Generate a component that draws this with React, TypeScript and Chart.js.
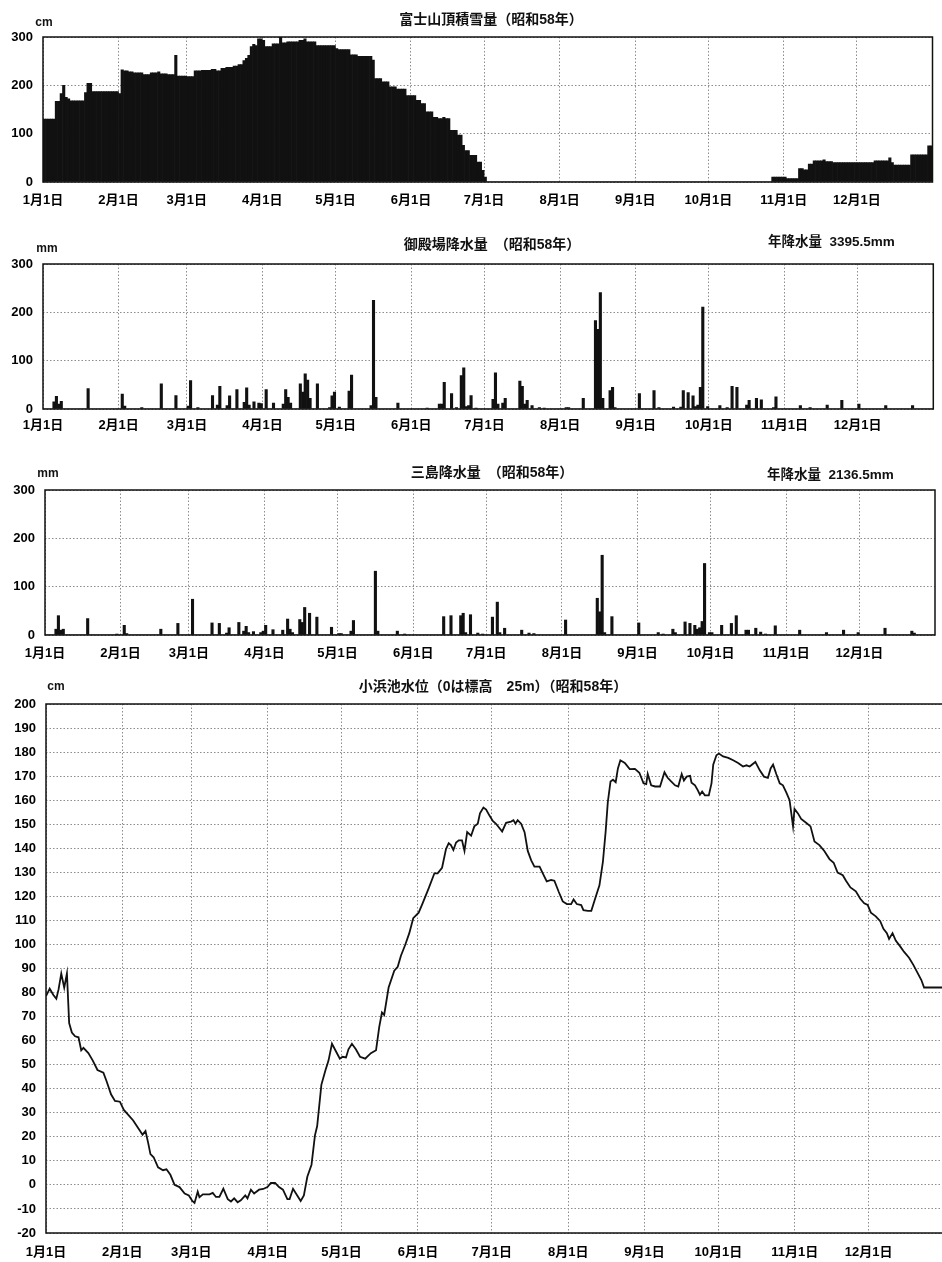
import React, { useEffect, useRef } from 'react';
import { Chart, registerables } from 'chart.js';
Chart.register(...registerables);

// ---------- data ----------
const monthStarts = [0, 31, 59, 90, 120, 151, 181, 212, 243, 273, 304, 334];
const monthLabels = ['1月1日', '2月1日', '3月1日', '4月1日', '5月1日', '6月1日', '7月1日', '8月1日', '9月1日', '10月1日', '11月1日', '12月1日'];

// Fuji summit snow depth (cm): [first day index, depth held until next entry]
const snowSteps: [number, number][] = [
  [0, 130], [5, 167], [7, 183], [8, 200], [9, 175], [10, 172], [11, 168], [17, 185], [18, 204], [20, 187],
  [31, 183], [32, 232], [33, 230], [35, 228], [37, 226], [41, 222], [44, 226], [47, 228], [48, 224], [51, 222],
  [54, 262], [55, 219], [59, 218], [62, 230], [65, 231], [69, 233], [71, 230], [73, 235], [75, 237], [78, 240],
  [80, 243], [82, 251], [83, 256], [84, 262], [85, 280], [86, 285], [87, 282], [88, 296], [90, 293], [91, 280],
  [94, 286], [97, 301], [98, 288], [100, 290], [105, 293], [107, 296], [108, 290], [112, 282], [120, 276],
  [121, 274], [126, 263], [129, 260], [135, 252], [136, 214], [139, 207], [142, 197], [145, 192], [149, 179],
  [153, 169], [155, 162], [157, 145], [160, 134], [162, 131], [164, 134], [165, 131], [167, 107], [170, 97],
  [172, 76], [173, 65], [175, 55], [178, 41], [180, 24], [181, 10], [182, 0], [299, 10], [305, 7], [310, 28],
  [312, 25], [314, 37], [316, 44], [320, 46], [321, 42], [324, 40], [341, 44], [347, 50], [348, 40], [349, 35],
  [356, 56], [363, 75],
];

// Gotemba daily precipitation (mm): [day index, mm]
const gotembaRain: [number, number][] = [
  [4, 15], [5, 26], [6, 10], [7, 16], [18, 42], [32, 31], [33, 6], [40, 3], [48, 52], [54, 28], [59, 6], [60, 59],
  [63, 3], [69, 28], [71, 8], [72, 47], [75, 7], [76, 27], [79, 40], [82, 14], [83, 44], [84, 8], [86, 15], [88, 12],
  [89, 11], [91, 40], [94, 12], [98, 10], [99, 40], [100, 24], [101, 12], [105, 52], [106, 35], [107, 73], [108, 60],
  [109, 22], [112, 52], [117, 3], [118, 27], [119, 35], [121, 4], [125, 37], [126, 70], [134, 7], [135, 225],
  [136, 24], [145, 12], [157, 2], [162, 10], [163, 10], [164, 55], [167, 32], [169, 3], [171, 69], [172, 85],
  [173, 5], [174, 7], [175, 28], [177, 2], [184, 20], [185, 75], [186, 10], [188, 12], [189, 22], [195, 58],
  [196, 47], [197, 10], [198, 18], [200, 7], [203, 3], [205, 2], [214, 3], [215, 3], [221, 22], [226, 183],
  [227, 165], [228, 241], [229, 22], [232, 38], [233, 45], [234, 3], [244, 32], [250, 38], [252, 3], [258, 4],
  [261, 4], [262, 38], [264, 34], [266, 27], [267, 5], [268, 8], [269, 45], [270, 211], [272, 5], [277, 7],
  [280, 3], [282, 47], [284, 45], [288, 8], [289, 18], [292, 22], [294, 19], [299, 3], [300, 25], [310, 7],
  [314, 3], [321, 8], [327, 18], [334, 10], [345, 7], [356, 7],
];

// Mishima daily precipitation (mm): [day index, mm]
const mishimaRain: [number, number][] = [
  [4, 12], [5, 40], [6, 10], [7, 12], [17, 34], [29, 2], [32, 20], [33, 3], [47, 12], [54, 24], [60, 74], [68, 25],
  [71, 24], [74, 4], [75, 15], [79, 26], [81, 8], [82, 18], [83, 5], [85, 7], [88, 5], [89, 8], [90, 20], [93, 11],
  [97, 10], [99, 33], [100, 12], [101, 5], [104, 32], [105, 26], [106, 57], [108, 45], [111, 37], [117, 16],
  [120, 3], [121, 3], [125, 8], [126, 30], [135, 132], [136, 8], [144, 8], [147, 2], [163, 38], [166, 40],
  [170, 40], [171, 45], [172, 5], [174, 42], [177, 4], [179, 2], [183, 37], [185, 68], [186, 5], [188, 14],
  [195, 10], [198, 4], [200, 3], [213, 31], [226, 76], [227, 48], [228, 165], [229, 5], [232, 38], [243, 25],
  [251, 5], [253, 2], [257, 12], [258, 5], [262, 27], [264, 24], [266, 20], [267, 12], [268, 15], [269, 28],
  [270, 148], [272, 5], [273, 5], [277, 20], [281, 24], [283, 40], [287, 10], [288, 10], [291, 14], [293, 6],
  [295, 2], [299, 19], [309, 10], [320, 5], [327, 10], [333, 5], [344, 14], [355, 8], [356, 4],
];

// Kohama pond water level (cm): [day, level]
const kohamaLevel: [number, number][] = [
  [0, 78.5], [1.5, 81.6], [3, 79], [4.2, 77.4], [5.1, 81.3], [6.2, 87.9], [7.4, 82], [8.5, 87.9], [9.4, 67.3],
  [10.5, 63.4], [11.8, 61.8], [13.2, 61.4], [14.3, 56], [15.2, 57], [17.2, 54.8], [19, 51.7], [20.9, 47.8],
  [23.3, 46.7], [24.6, 43.1], [26.4, 37.7], [28, 34.9], [30, 34.6], [31.6, 31.2], [33.4, 29.1], [35.4, 26.8],
  [37.4, 23.7], [39.2, 20.9], [40.4, 22.4], [41.5, 17.4], [42.4, 12.8], [43.7, 11.5], [45.5, 7.3], [47.5, 6.1],
  [48.9, 6.5], [50.5, 4.2], [52.2, 0], [54.2, -0.9], [56.3, -3.6], [58, -4.4], [59.4, -6.7], [60.3, -7.5],
  [61.6, -2.8], [62.3, -5.1], [63.7, -3.9], [66.4, -3.9], [67.7, -3.3], [69, -5], [70.4, -5], [72, -1.6],
  [73.8, -5.9], [75.1, -6.9], [76.4, -5.6], [77.8, -7.2], [79.1, -6.4], [80.9, -4.4], [81.8, -5.6], [83.2, -2],
  [84.5, -3.6], [86.5, -2], [88.2, -1.7], [89.9, -0.9], [91.3, 0.8], [93, 0.8], [94.6, -0.9], [96.2, -2],
  [98, -5.9], [98.9, -5.9], [100.3, -1.6], [102, -4.4], [103.4, -6.7], [104.7, -4.4], [106.1, 3.4], [107.8, 8.4],
  [109.2, 20.6], [110.1, 24.5], [111.8, 41.6], [113.4, 47.5], [114.7, 51.7], [116.1, 58.7], [117.7, 55.6],
  [119.3, 52.5], [120.4, 53.3], [121.8, 53], [122.8, 56.4], [124.2, 58.7], [125.8, 56.4], [127.5, 53.3],
  [129.6, 52.5], [131.9, 54.8], [134, 56], [135.3, 65.7], [136.4, 71.7], [137.3, 70.7], [139.1, 82.1],
  [141.4, 89.1], [142.8, 90.7], [144.1, 95.3], [145.9, 100], [147.5, 104.7], [149.1, 110.9], [151.3, 113.2],
  [152.9, 117.1], [155.4, 123.4], [157.7, 129.6], [159, 129.6], [160.8, 131.9], [162.4, 139.7], [163.5, 142.1],
  [164.4, 141.3], [165.4, 139.3], [166.5, 142.4], [167.6, 143.3], [168.9, 143.3], [169.9, 138.9], [171, 146.7],
  [172.6, 145.2], [173.9, 149.1], [175.3, 150.2], [176.2, 154.5], [177.6, 156.9], [178.7, 156.1], [180, 153.7],
  [181.4, 151.4], [182.7, 150.2], [185.2, 147], [186.8, 150.6], [188.8, 151.1], [189.8, 151.7], [190.6, 150.2],
  [191.5, 151.7], [192.9, 150.2], [194.3, 146.7], [195.6, 138.9], [197, 135], [198.3, 132.4], [200.4, 132.4],
  [201.7, 129.6], [203.3, 126.2], [205.1, 126.8], [206.4, 126.5], [208.2, 121.8], [209.8, 117.9], [211.5, 116.8],
  [213.2, 116.8], [214.2, 118.7], [215.5, 116.8], [217.3, 116.4], [218.2, 114.3], [220, 114], [221.4, 114],
  [223.1, 119.5], [224.7, 124.6], [226.1, 134.3], [227.2, 146.7], [228.1, 159.2], [229.2, 167.8], [230.2, 168.5],
  [231.3, 167.5], [232.2, 173.2], [233.2, 176.6], [235, 175.5], [237, 172.9], [239.1, 173], [240.9, 171.4],
  [242.6, 167], [243.7, 166.7], [244.3, 170.9], [245.7, 166.2], [247.3, 165.7], [249.3, 165.7], [251.1, 171.6],
  [252.4, 169.3], [253.8, 167.8], [255.4, 166.2], [256.7, 165.7], [258.1, 170.9], [259, 168.2], [260.1, 169.8],
  [261.5, 170.1], [262.1, 167.3], [263.5, 166.2], [264.6, 164.2], [265.5, 162.3], [266.4, 163.6], [267.5, 162],
  [269.1, 162], [270.2, 167], [270.9, 174.8], [272.2, 178.7], [273.2, 179.4], [274.9, 178.2], [277, 177.6],
  [279, 176.6], [281, 175.5], [283, 174], [284.4, 174.5], [285.7, 174], [288, 175.9], [289.8, 172.4],
  [291.5, 169.8], [293.1, 169.3], [294.2, 173.2], [295.2, 174.8], [296.5, 170.9], [297.9, 167], [299.2, 166.2],
  [300.6, 163.1], [301.9, 160], [302.6, 154.5], [303.3, 149.1], [303.9, 156.4], [305.3, 154.5], [306.6, 152.2],
  [308.6, 150.6], [310.4, 149.1], [312, 142.8], [314, 141.3], [316, 138.9], [318.1, 135.5], [319.8, 134],
  [321.4, 129.9], [323.5, 128.8], [324.8, 126.5], [326.6, 123.7], [328.8, 122.1], [330.6, 119], [332.2, 117.1],
  [333.6, 116.4], [334.9, 113.2], [336.9, 111.7], [338.7, 109.7], [340, 106.5], [341.4, 104.7], [342.3, 102.3],
  [343.7, 104.7], [345, 101.6], [346.8, 99.2], [348.4, 96.9], [350.4, 94.5], [352.2, 91.4], [353.8, 88.3],
  [355.4, 85.2], [356.5, 82.1], [365, 82.1],
];

// ---------- helpers ----------
const DAYS = 365;
function dailyFromSteps(steps: [number, number][]) {
  const out: { x: number; y: number }[] = [];
  let k = 0;
  for (let d = 0; d < DAYS; d++) {
    while (k + 1 < steps.length && steps[k + 1][0] <= d) k++;
    out.push({ x: d + 0.5, y: steps[k][1] });
  }
  return out;
}
function dailyFromSparse(list: [number, number][]) {
  const vals = new Array(DAYS).fill(0);
  list.forEach(([d, v]) => { vals[d] = v; });
  return vals.map((v, d) => ({ x: d + 0.5, y: v }));
}

const FONT = "'Liberation Sans', 'Noto Sans CJK JP', sans-serif";
const GRID = '#8c8c8c';

const boxPlugin = {
  id: 'box',
  afterDraw(chart: any) {
    const { ctx, chartArea: a } = chart;
    ctx.save();
    ctx.strokeStyle = '#111';
    ctx.lineWidth = 1.5;
    ctx.strokeRect(a.left, a.top, a.right - a.left, a.bottom - a.top);
    ctx.restore();
  },
};

type PanelProps = {
  top: number; width: number; height: number;
  yAxisWidth: number; padTop: number; padRight: number; xPad: number;
  yMin: number; yMax: number; yStep: number;
  kind: 'bar' | 'line';
  points: { x: number; y: number }[];
  barPct: number;
};

function Panel(p: PanelProps) {
  const ref = useRef<HTMLCanvasElement>(null);
  useEffect(() => {
    const chart = new Chart(ref.current as HTMLCanvasElement, {
      type: p.kind,
      data: {
        datasets: [{
          data: p.points,
          backgroundColor: '#111',
          borderColor: '#111',
          borderWidth: p.kind === 'line' ? 1.8 : 0,
          pointRadius: 0,
          tension: 0,
          barPercentage: p.barPct,
          categoryPercentage: 1,
        } as any],
      },
      options: {
        responsive: false,
        animation: false,
        layout: { padding: { top: p.padTop, right: p.padRight, left: 0, bottom: 0 } },
        plugins: { legend: { display: false }, tooltip: { enabled: false }, title: { display: false } },
        scales: {
          x: {
            type: 'linear', min: 0, max: DAYS, offset: false,
            afterBuildTicks: (s: any) => { s.ticks = monthStarts.map((v) => ({ value: v })); },
            afterFit: (s: any) => { s.height = 30; },
            grid: { color: GRID, lineWidth: 1, drawTicks: false, offset: false },
            border: { display: false, dash: [1.5, 2] },
            ticks: {
              autoSkip: false, maxRotation: 0, minRotation: 0, padding: p.xPad, color: '#000',
              font: { family: FONT, size: 13, weight: 'bold' },
              callback: (_v: any, i: number) => monthLabels[i],
            },
          },
          y: {
            type: 'linear', min: p.yMin, max: p.yMax,
            afterFit: (s: any) => { s.width = p.yAxisWidth; },
            grid: { color: GRID, lineWidth: 1, drawTicks: false },
            border: { display: false, dash: [1.5, 2] },
            ticks: { stepSize: p.yStep, padding: 10, color: '#000', font: { family: FONT, size: 13, weight: 'bold' } },
          },
        },
      } as any,
      plugins: [boxPlugin],
    });
    return () => chart.destroy();
  }, []);
  return (
    <canvas
      ref={ref}
      width={p.width}
      height={p.height}
      style={{ position: 'absolute', left: 0, top: p.top, width: p.width, height: p.height }}
    />
  );
}

function Txt(props: { x: number; y: number; text: string; size: number; align?: 'left' | 'center' }) {
  const center = props.align !== 'left';
  return (
    <div
      style={{
        position: 'absolute', left: props.x, top: props.y - 10, height: 20, lineHeight: '20px',
        transform: center ? 'translateX(-50%)' : undefined, whiteSpace: 'pre',
        fontFamily: FONT, fontWeight: 'bold', fontSize: props.size, color: '#111',
      }}
    >
      {props.text}
    </div>
  );
}

export default function App() {
  const snow = dailyFromSteps(snowSteps);
  const gotemba = dailyFromSparse(gotembaRain);
  const mishima = dailyFromSparse(mishimaRain);
  const level = kohamaLevel.map(([x, y]) => ({ x, y }));
  return (
    <div style={{ position: 'absolute', left: 0, top: 0, width: 942, height: 1262, overflow: 'hidden', background: '#fff' }}>
      <Panel top={0} width={942} height={212} yAxisWidth={43} padTop={37} padRight={9.5} xPad={11}
        yMin={0} yMax={300} yStep={100} kind="bar" points={snow} barPct={1} />
      <Panel top={230} width={942} height={209} yAxisWidth={43} padTop={34} padRight={8.7} xPad={9}
        yMin={0} yMax={300} yStep={100} kind="bar" points={gotemba} barPct={1} />
      <Panel top={455} width={942} height={210} yAxisWidth={45} padTop={35} padRight={7} xPad={11}
        yMin={0} yMax={300} yStep={100} kind="bar" points={mishima} barPct={1} />
      <Panel top={670} width={960} height={593} yAxisWidth={46} padTop={34} padRight={15} xPad={12}
        yMin={-20} yMax={200} yStep={10} kind="line" points={level} barPct={1} />

      <Txt x={44} y={22} text="cm" size={12} />
      <Txt x={491} y={19} text="富士山頂積雪量（昭和58年）" size={14} />

      <Txt x={47} y={248} text="mm" size={12} />
      <Txt x={492} y={244} text="御殿場降水量　（昭和58年）" size={14} />
      <Txt x={768} y={242} text="年降水量  3395.5mm" size={13.5} align="left" />

      <Txt x={48} y={473} text="mm" size={12} />
      <Txt x={492} y={472} text="三島降水量　（昭和58年）" size={14} />
      <Txt x={767} y={475} text="年降水量  2136.5mm" size={13.5} align="left" />

      <Txt x={56} y={686} text="cm" size={12} />
      <Txt x={493} y={686} text="小浜池水位（0は標高　25m）（昭和58年）" size={14} />
    </div>
  );
}
